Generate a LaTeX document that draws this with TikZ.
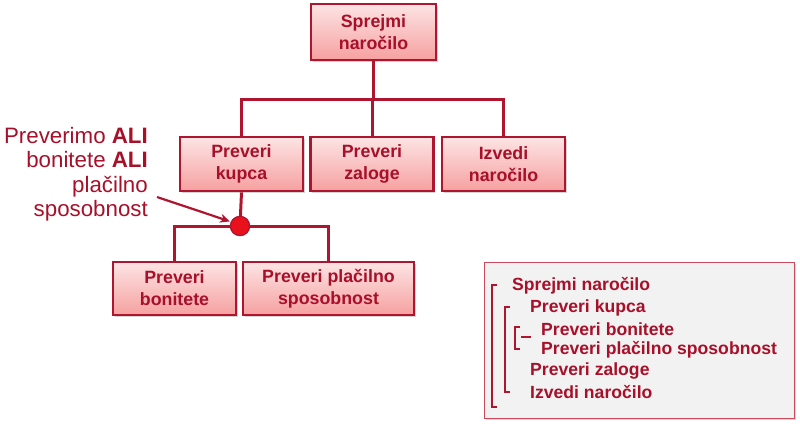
\documentclass[tikz,border=0pt]{standalone}
\usepackage{fontspec}
\setmainfont{Liberation Sans}
\usetikzlibrary{shadows,arrows.meta}
\definecolor{dred}{HTML}{A8102A}
\definecolor{bred}{HTML}{B01530}
\definecolor{ftop}{HTML}{FDE4E4}
\definecolor{fbot}{HTML}{F6A0A0}
\definecolor{orred}{HTML}{E8111C}
\definecolor{lgray}{HTML}{F2F2F2}
\definecolor{lborder}{HTML}{C84A5C}
\tikzset{
  taskbox/.style={draw=bred, line width=2.8pt, top color=ftop, bottom color=fbot,
    align=center, text=dred, inner sep=0pt,
    font=\bfseries\fontsize{17.8}{22}\selectfont,
    drop shadow={shadow xshift=1.5pt, shadow yshift=-1.5pt, opacity=0.35}},
  conn/.style={draw=bred, line width=3pt},
  legtext/.style={anchor=west, text=dred, inner sep=0pt, font=\bfseries\fontsize{17.6}{20}\selectfont},
  brack/.style={draw=bred, line width=2.8pt},
}
\begin{document}
\begin{tikzpicture}[x=1pt,y=-1pt]
\useasboundingbox (0,0) rectangle (800,423);
% boxes
\node[taskbox, minimum width=125, minimum height=56] (top) at (373.5,32) {Sprejmi\\naročilo};
\node[taskbox, minimum width=123, minimum height=54] (kup) at (241.5,164) {Preveri\\kupca};
\node[taskbox, minimum width=123, minimum height=54] (zal) at (372,164) {Preveri\\zaloge};
\node[taskbox, minimum width=123, minimum height=54] (izv) at (503.5,164) {Izvedi\\naročilo};
\node[taskbox, minimum width=123, minimum height=53] (bon) at (174.5,288.5) {Preveri\\bonitete};
\node[taskbox, minimum width=171, minimum height=53] (pla) at (328.5,288.5) {Preveri plačilno\\sposobnost};
% connectors top
\coordinate (hub) at (373.5,99);
\draw[conn] (top.south) -- (hub);
\draw[conn] (kup.north) |- (hub) -| (izv.north);
\draw[conn] (hub -| zal.north) -- (zal.north);
% OR node
\node[circle, fill=orred, draw=bred, line width=1.2pt, minimum size=19pt, inner sep=0pt] (or) at (240,226) {};
\draw[conn] (kup.south) -- (or);
\draw[conn] (bon.north) -- (bon.north |- or.center) -- (pla.north |- or.center) -- (pla.north);
\node[circle, fill=orred, draw=bred, line width=1.2pt, minimum size=19pt, inner sep=0pt] at (or) {};
% annotation
\node[anchor=north east, align=right, text=dred, inner sep=0pt,
  font=\fontsize{22.3}{24.5}\selectfont] (ann) at (148,127)
  {Preverimo \textbf{ALI}\\bonitete \textbf{ALI}\\plačilno\\sposobnost};
\coordinate (as) at (157,197);
\draw[draw=bred, line width=2.2pt, -{Stealth[length=10pt,width=9pt]}, shorten >=1pt] (as) -- (or.155);
% legend
\node[draw=lborder, line width=1pt, fill=lgray, minimum width=310, minimum height=156,
  drop shadow={shadow xshift=1.5pt, shadow yshift=-1.5pt, opacity=0.3}] (leg) at (639,340) {};
\node[legtext] (l1) at (512,286) {Sprejmi naročilo};
\node[legtext] (l2) at (530,308) {Preveri kupca};
\node[legtext] (l3) at (541,329) {Preveri bonitete};
\node[legtext] (l4) at (541,350) {Preveri plačilno sposobnost};
\node[legtext] (l5) at (530,371) {Preveri zaloge};
\node[legtext] (l6) at (530,392) {Izvedi naročilo};
\draw[brack] (497,285) -- (492,285) -- (492,407) -- (497,407);
\draw[brack] (510,307) -- (505,307) -- (505,392) -- (510,392);
\draw[brack] (520,327) -- (515,327) -- (515,349) -- (520,349);
\draw[draw=bred, line width=2.2pt] (521,337) -- (531,337);
\end{tikzpicture}
\end{document}
